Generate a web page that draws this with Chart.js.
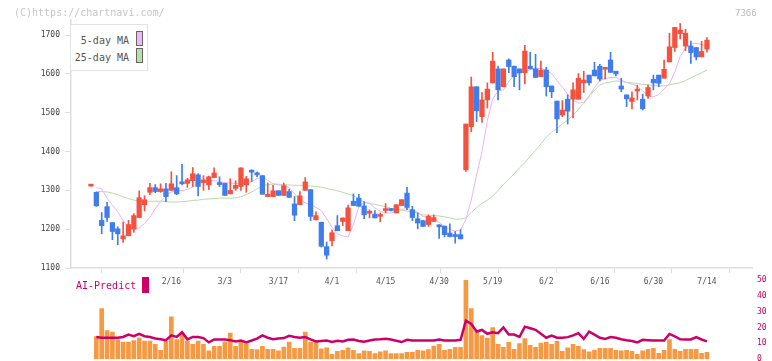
<!DOCTYPE html>
<html>
<head>
<meta charset="utf-8">
<script src="https://cdn.jsdelivr.net/npm/chart.js"></script>
<style>
  body { margin: 0; width: 772px; height: 361px; overflow: hidden; background: #fff; position: relative;
         font-family: "DejaVu Sans Mono", "Liberation Mono", monospace; }
  canvas { position: absolute; left: 0; }
  #main { top: 0; }
  #sub { top: 270px; }
  .t { position: absolute; white-space: pre; line-height: 12px; }
  .box { position: absolute; box-sizing: border-box; }
</style>
</head>
<body>
<canvas id="main" width="772" height="300"></canvas>
<canvas id="sub" width="772" height="99"></canvas>

<div class="t" style="left:14px;top:7px;font-size:10px;color:#c6c6c6">(C)https://chartnavi.com/</div>
<div class="t" style="left:735px;top:7px;font-size:9px;color:#bdbdbd">7366</div>

<div class="box" style="left:70px;top:24px;width:78px;height:47px;border:1px solid #e2e2e2;background:#fff"></div>
<div class="t" style="left:70px;width:59px;text-align:right;top:35px;font-size:10px;color:#555">5-day MA</div>
<div class="t" style="left:70px;width:59px;text-align:right;top:52px;font-size:10px;color:#555">25-day MA</div>
<div class="box" style="left:136px;top:31px;width:7px;height:15px;border:1px solid #666;background:#f0b8f0"></div>
<div class="box" style="left:136px;top:48px;width:7px;height:15px;border:1px solid #666;background:#b8e0a8"></div>

<div class="t" style="left:76px;top:280px;font-size:10px;color:#cc0066">AI-Predict</div>
<div class="box" style="left:142px;top:277px;width:7px;height:16px;background:#cc0066"></div>

<script>
// ---- data ----
const opens = [1311,1295,1223,1258,1217,1201,1175,1183,1200,1230,1263,1295,1307,1297,1304,1300,1307,1322,1318,1325,
  1340,1320,1314,1333,1319,1318,1291,1305,1310,1314,1348,1341,1338,1284,1284,1299,1287,1297,1265,1263,
  1300,1302,1224,1218,1155,1170,1209,1220,1196,1272,1280,1260,1241,1239,1233,1248,1252,1242,1261,1293,
  1250,1227,1222,1212,1220,1207,1208,1190,1182,1186,1353,1464,1567,1490,1533,1577,1613,1567,1636,1620,
  1613,1603,1620,1613,1593,1610,1569,1530,1494,1535,1535,1535,1577,1597,1610,1620,1612,1636,1607,1569,
  1546,1529,1556,1535,1543,1586,1597,1589,1631,1668,1704,1672,1672,1668,1644,1664];
const highs = [1312,1296,1243,1269,1217,1206,1218,1223,1240,1299,1286,1318,1315,1317,1318,1348,1338,1367,1331,1359,
  1343,1338,1337,1358,1335,1318,1330,1325,1358,1336,1353,1348,1338,1319,1313,1299,1319,1303,1284,1297,
  1333,1302,1245,1218,1167,1198,1235,1229,1262,1291,1290,1271,1250,1248,1242,1266,1253,1263,1276,1308,
  1259,1242,1222,1237,1237,1212,1208,1214,1194,1199,1471,1592,1567,1552,1577,1656,1620,1613,1639,1620,
  1613,1674,1656,1651,1633,1617,1569,1530,1531,1546,1577,1601,1607,1597,1630,1625,1617,1656,1607,1589,
  1546,1554,1571,1548,1571,1597,1597,1636,1705,1720,1730,1715,1685,1668,1684,1694];
const lows = [1311,1259,1188,1220,1173,1160,1166,1183,1192,1230,1247,1289,1294,1295,1271,1300,1289,1314,1308,1310,
  1286,1300,1302,1333,1310,1287,1291,1300,1300,1295,1323,1335,1290,1284,1284,1287,1287,1282,1222,1263,
  1300,1222,1224,1154,1123,1157,1196,1209,1196,1261,1259,1227,1229,1229,1219,1242,1247,1242,1261,1250,
  1222,1201,1207,1207,1220,1176,1180,1180,1164,1175,1349,1451,1477,1475,1512,1577,1533,1567,1603,1567,
  1559,1574,1613,1591,1593,1543,1539,1449,1490,1471,1487,1535,1552,1571,1595,1582,1587,1604,1595,1554,
  1516,1510,1533,1507,1537,1559,1567,1589,1631,1658,1690,1660,1627,1636,1644,1656];
const closes = [1312,1260,1209,1230,1194,1188,1183,1212,1235,1281,1276,1307,1297,1304,1284,1317,1291,1317,1327,1343,
  1310,1327,1335,1345,1315,1287,1300,1313,1358,1330,1347,1340,1290,1290,1299,1287,1312,1282,1236,1286,
  1322,1233,1235,1156,1133,1191,1196,1229,1255,1261,1259,1237,1242,1229,1234,1253,1248,1263,1276,1256,
  1230,1216,1207,1233,1230,1206,1186,1181,1181,1175,1471,1567,1505,1533,1561,1633,1559,1613,1619,1593,
  1603,1659,1613,1591,1610,1567,1554,1484,1507,1504,1559,1589,1584,1577,1595,1587,1613,1604,1600,1561,
  1536,1538,1560,1510,1565,1577,1576,1612,1670,1720,1713,1705,1655,1644,1658,1687];

const ma5 = [null,1307,1304,1280,1262,1245,1222,1205,1201,1203,1214,1231,1253,1271,1287,1296,1298,1300,1302,1309,
  1318,1322,1325,1325,1323,1320,1319,1318,1318,1320,1322,1330,1335,1326,1317,1314,1313,1307,1291,1276,
  1268,1263,1256,1248,1227,1205,1188,1183,1180,1212,1258,1269,1267,1255,1246,1242,1242,1246,1251,1253,
  1250,1243,1233,1230,1226,1218,1207,1199,1195,1198,1225,1275,1340,1400,1480,1535,1556,1559,1580,1597,
  1603,1605,1612,1614,1614,1610,1601,1583,1566,1548,1532,1525,1527,1543,1565,1583,1588,1591,1591,1584,
  1578,1574,1568,1556,1543,1541,1547,1561,1575,1605,1645,1667,1677,1679,1676,1670];
const ma25 = [null,1297,1297,1296,1293,1289,1283,1279,1275,1273,1272,1272,1272,1272,1271,1270,1270,1271,1272,1274,
  1275,1277,1278,1279,1280,1280,1280,1281,1284,1289,1296,1304,1312,1315,1316,1316,1315,1314,1313,1313,
  1312,1311,1310,1308,1305,1302,1299,1295,1291,1286,1279,1270,1266,1264,1261,1258,1254,1251,1249,1247,
  1245,1241,1237,1236,1235,1234,1232,1229,1226,1226,1229,1243,1256,1266,1275,1285,1300,1315,1329,1343,
  1358,1371,1388,1403,1420,1437,1450,1459,1471,1481,1493,1509,1524,1542,1558,1572,1577,1579,1582,1581,
  1578,1577,1575,1573,1572,1570,1569,1569,1572,1575,1577,1583,1590,1597,1603,1610];

const volume = [null,14.3,31.9,18,17,12.2,10.8,10.8,11.8,13.3,11.4,11.4,9.3,5.6,11.2,26.7,12.4,15.9,11.4,9.3,
  11.4,9.3,5.2,8.1,8.1,10.8,16.4,8.1,10.8,9.7,6.2,6,8.1,6.2,6.2,5.2,7.7,10.8,6.8,6.8,
  17,10.8,11.8,6.6,7.2,3.1,5,5.6,7.2,5.6,3.5,5.2,5,3.5,4.6,5.2,3.5,3.5,3.5,4.3,
  4.3,5.6,5.2,6,8.3,9.3,5.6,6.2,7.5,7.5,49.7,31.9,17.4,14.9,13.3,19.9,9.3,7.5,10.6,6.2,
  9.9,13,8.7,7.5,10.1,10.8,9.3,11.2,5,7.2,9.3,8.1,6,4.6,5.8,6.8,6.8,6.8,5.6,5.2,
  5.6,5,3.1,5.2,6.2,6.8,3.7,5.6,12.4,6.2,5,6.2,6.2,6.2,3.7,4.3];
const aiPredict = [null,14,13.5,13.5,13.5,13.5,14,15.5,14.5,16,14.5,14,13,12.5,12,15,14,17,12.5,14,
  14,13.3,10.6,12.4,12.4,12.4,12,11.2,11.8,10.6,11.8,13,15,13.5,12.6,13,13.3,14.7,14,13.5,
  13.9,12.5,11.2,11.5,11.8,10.8,11.6,11.2,12.2,12.4,11.5,11,11.8,12.4,12.5,12.8,12.4,11.6,10.8,12.2,
  11.8,11.8,11.8,11.8,11.8,12.4,11.8,11.8,11.8,12.2,24.2,22.2,17.4,18.4,16,17,16.4,20,15.5,15.5,
  14,20.5,19.5,18.5,16,13.5,14.9,13.5,13.5,13.9,15,16.4,12.8,17.4,15.5,13.5,12.8,13.9,13.5,12.6,
  12,11.5,10.6,12.2,12,11.8,11.8,11.8,15.9,14.3,12.5,12.4,12.4,13.9,12.4,11.2];

const labelIdx = [15,25,35,45,55,65,75,85,95,105,115];
const labelTxt = ['2/16','3/3','3/17','4/1','4/15','4/30','5/19','6/2','6/16','6/30','7/14'];

// ---- styling ----
const FONT = '"DejaVu Sans Mono", "Liberation Mono", monospace';
const UP = '#f4513f', DOWN = '#3f7cec', AXIS = '#dedede';
const X_MIN = -3.73, X_MAX = 123.41;
const divTicks = Array.from({ length: 12 }, (_, k) => X_MIN + k * (X_MAX - X_MIN) / 11);

const candleColor = closes.map((c, i) => c >= opens[i] ? UP : DOWN);
const pts = arr => arr.map((v, i) => ({ x: i, y: v })).filter(p => p.y !== null);

new Chart(document.getElementById('main'), {
  type: 'bar',
  data: {
    datasets: [
      { type: 'line', data: pts(ma5), borderColor: '#ecb4ec', borderWidth: 1, pointRadius: 0, tension: 0, order: 4 },
      { type: 'line', data: pts(ma25), borderColor: '#b4dca4', borderWidth: 1, pointRadius: 0, tension: 0, order: 4 },
      { data: lows.map((l, i) => ({ x: i, y: [l, highs[i]] })), backgroundColor: candleColor,
        barThickness: 1, grouped: false, order: 2 },
      { data: opens.map((o, i) => ({ x: i, y: [o, closes[i]] })), backgroundColor: candleColor,
        barThickness: 4.6, minBarLength: 2, grouped: false, order: 1 }
    ]
  },
  options: {
    responsive: false, animation: false,
    layout: { padding: { top: 20, right: 20, left: 0, bottom: 0 } },
    plugins: { legend: { display: false }, tooltip: { enabled: false } },
    scales: {
      x: {
        type: 'linear', min: X_MIN, max: X_MAX, offset: false,
        afterBuildTicks: s => { s.ticks = divTicks.concat(labelIdx).sort((a, b) => a - b).map(v => ({ value: v })); },
        afterFit: s => { s.height = 32; },
        ticks: {
          autoSkip: false, maxRotation: 0, padding: 4, color: '#555', font: { family: FONT, size: 8 },
          callback: v => { const j = labelIdx.indexOf(v); return j >= 0 ? labelTxt[j] : ''; }
        },
        grid: {
          drawOnChartArea: false, tickLength: 5,
          tickColor: c => (c.tick && labelIdx.includes(c.tick.value)) ? 'rgba(0,0,0,0)' : AXIS
        },
        border: { color: AXIS, width: 1.5 }
      },
      y: {
        min: 1100, max: 1739,
        afterBuildTicks: s => { s.ticks = s.ticks.filter(t => t.value % 100 === 0); },
        afterFit: s => { s.width = 71; },
        ticks: { stepSize: 100, padding: 5, color: '#444', font: { family: FONT, size: 8 }, callback: v => String(v) },
        grid: { drawOnChartArea: false, tickLength: 6, tickColor: AXIS },
        border: { color: AXIS, width: 1.5 }
      }
    }
  }
});

new Chart(document.getElementById('sub'), {
  type: 'bar',
  data: {
    datasets: [
      { type: 'line', data: pts(aiPredict), borderColor: '#cc0066', borderWidth: 2.5, pointRadius: 0, tension: 0, order: 1 },
      { data: pts(volume), backgroundColor: '#f59a42', barThickness: 4, grouped: false, order: 2 }
    ]
  },
  options: {
    responsive: false, animation: false,
    layout: { padding: { top: 8, right: 0, left: 71, bottom: 5 } },
    plugins: { legend: { display: false }, tooltip: { enabled: false } },
    scales: {
      x: { type: 'linear', min: X_MIN, max: X_MAX, offset: false, display: false },
      y: {
        position: 'right', min: 0, max: 50,
        afterFit: s => { s.width = 20; },
        ticks: { stepSize: 10, padding: 5, color: '#c8005a', font: { family: FONT, size: 8 } },
        grid: { display: false, drawTicks: false },
        border: { display: false }
      }
    }
  }
});
</script>
</body>
</html>
